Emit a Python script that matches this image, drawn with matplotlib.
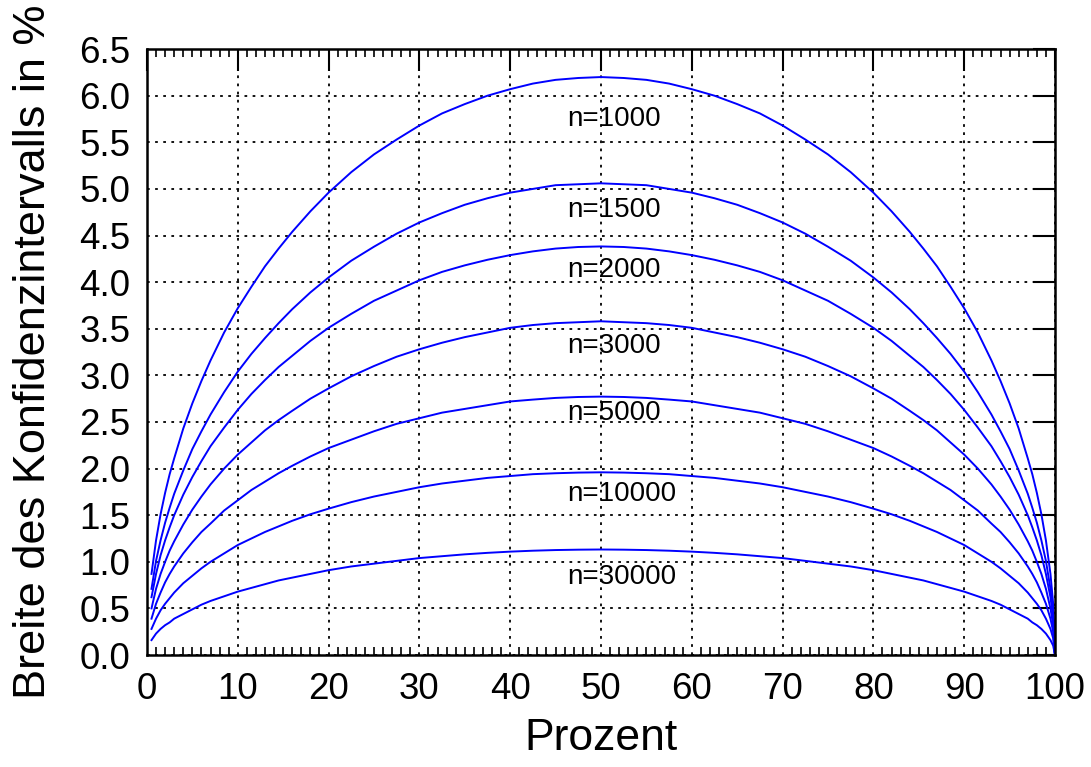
import matplotlib
matplotlib.use('Agg')
import matplotlib.pyplot as plt
from matplotlib.ticker import MultipleLocator, FormatStrFormatter

plt.rcParams['font.family'] = ['Liberation Sans', 'DejaVu Sans']

# Prozent (x positions)
prozent = [0.5, 1, 1.5, 2, 2.5, 3, 4, 5, 6, 7, 8.5, 10, 11.5, 13, 14.5, 16, 18, 20,
           22.5, 25, 27.5, 30, 32.5, 35, 37.5, 40, 42.5, 45, 47.5, 50,
           52.5, 55, 57.5, 60, 62.5, 65, 67.5, 70, 72.5, 75, 77.5, 80, 82, 84,
           85.5, 87, 88.5, 90, 91.5, 93, 94, 95, 96, 97, 97.5, 98, 98.5, 99, 99.5, 99.8, 100]

# width of confidence interval in %, one list per sample size
w_1000 = [0.87, 1.23, 1.51, 1.74, 1.94, 2.11, 2.43, 2.70, 2.94, 3.16, 3.46, 3.72, 3.95, 4.17, 4.36, 4.54, 4.76, 4.96,
          5.18, 5.37, 5.53, 5.68, 5.81, 5.91, 6.00, 6.07, 6.13, 6.17, 6.19, 6.20,
          6.19, 6.17, 6.13, 6.07, 6.00, 5.91, 5.81, 5.68, 5.53, 5.37, 5.18, 4.96, 4.76, 4.54,
          4.36, 4.17, 3.95, 3.72, 3.46, 3.16, 2.94, 2.70, 2.43, 2.11, 1.94, 1.74, 1.51, 1.23, 0.87, 0.55, 0.0]
w_1500 = [0.71, 1.01, 1.23, 1.42, 1.58, 1.73, 1.98, 2.21, 2.40, 2.58, 2.82, 3.04, 3.23, 3.40, 3.56, 3.71, 3.89, 4.05,
          4.23, 4.38, 4.52, 4.64, 4.74, 4.83, 4.90, 4.96, 5.00, 5.04, 5.05, 5.06,
          5.05, 5.04, 5.00, 4.96, 4.90, 4.83, 4.74, 4.64, 4.52, 4.38, 4.23, 4.05, 3.89, 3.71,
          3.56, 3.40, 3.23, 3.04, 2.82, 2.58, 2.40, 2.21, 1.98, 1.73, 1.58, 1.42, 1.23, 1.01, 0.71, 0.45, 0.0]
w_2000 = [0.62, 0.87, 1.07, 1.23, 1.37, 1.50, 1.72, 1.91, 2.08, 2.24, 2.44, 2.63, 2.80, 2.95, 3.09, 3.21, 3.37, 3.51,
          3.66, 3.80, 3.91, 4.02, 4.11, 4.18, 4.24, 4.29, 4.33, 4.36, 4.377, 4.383,
          4.377, 4.36, 4.33, 4.29, 4.24, 4.18, 4.11, 4.02, 3.91, 3.80, 3.66, 3.51, 3.37, 3.21,
          3.09, 2.95, 2.80, 2.63, 2.44, 2.24, 2.08, 1.91, 1.72, 1.50, 1.37, 1.23, 1.07, 0.87, 0.62, 0.39, 0.0]
w_3000 = [0.50, 0.71, 0.87, 1.00, 1.12, 1.22, 1.40, 1.56, 1.70, 1.83, 2.00, 2.15, 2.28, 2.41, 2.52, 2.62, 2.75, 2.86,
          2.99, 3.10, 3.20, 3.28, 3.35, 3.41, 3.46, 3.51, 3.54, 3.56, 3.57, 3.58,
          3.57, 3.56, 3.54, 3.51, 3.46, 3.41, 3.35, 3.28, 3.20, 3.10, 2.99, 2.86, 2.75, 2.62,
          2.52, 2.41, 2.28, 2.15, 2.00, 1.83, 1.70, 1.56, 1.40, 1.22, 1.12, 1.00, 0.87, 0.71, 0.50, 0.32, 0.0]
w_5000 = [0.39, 0.55, 0.67, 0.78, 0.87, 0.95, 1.09, 1.21, 1.32, 1.41, 1.55, 1.66, 1.77, 1.86, 1.95, 2.03, 2.13, 2.22,
          2.31, 2.40, 2.48, 2.54, 2.60, 2.64, 2.68, 2.72, 2.74, 2.758, 2.768, 2.772,
          2.768, 2.758, 2.74, 2.72, 2.68, 2.64, 2.60, 2.54, 2.48, 2.40, 2.31, 2.22, 2.13, 2.03,
          1.95, 1.86, 1.77, 1.66, 1.55, 1.41, 1.32, 1.21, 1.09, 0.95, 0.87, 0.78, 0.67, 0.55, 0.39, 0.25, 0.0]
w_10000 = [0.28, 0.39, 0.48, 0.55, 0.61, 0.67, 0.77, 0.85, 0.93, 1.00, 1.09, 1.18, 1.25, 1.32, 1.38, 1.44, 1.51, 1.57,
           1.64, 1.70, 1.75, 1.80, 1.84, 1.87, 1.90, 1.92, 1.94, 1.95, 1.957, 1.96,
           1.957, 1.95, 1.94, 1.92, 1.90, 1.87, 1.84, 1.80, 1.75, 1.70, 1.64, 1.57, 1.51, 1.44,
           1.38, 1.32, 1.25, 1.18, 1.09, 1.00, 0.93, 0.85, 0.77, 0.67, 0.61, 0.55, 0.48, 0.39, 0.28, 0.18, 0.0]
w_30000 = [0.16, 0.23, 0.28, 0.32, 0.35, 0.39, 0.44, 0.49, 0.54, 0.58, 0.63, 0.68, 0.72, 0.76, 0.80, 0.83, 0.87, 0.91,
           0.95, 0.98, 1.01, 1.04, 1.06, 1.08, 1.096, 1.109, 1.119, 1.126, 1.130, 1.132,
           1.130, 1.126, 1.119, 1.109, 1.096, 1.08, 1.06, 1.04, 1.01, 0.98, 0.95, 0.91, 0.87, 0.83,
           0.80, 0.76, 0.72, 0.68, 0.63, 0.58, 0.54, 0.49, 0.44, 0.39, 0.35, 0.32, 0.28, 0.23, 0.16, 0.10, 0.0]

series = [w_1000, w_1500, w_2000, w_3000, w_5000, w_10000, w_30000]
labels = ['n=1000', 'n=1500', 'n=2000', 'n=3000', 'n=5000', 'n=10000', 'n=30000']
label_y = [5.75, 4.77, 4.13, 3.31, 2.60, 1.73, 0.84]

fig = plt.figure(figsize=(10.91, 7.67), dpi=100)
ax = fig.add_axes([0.1347, 0.146, 0.8323, 0.790])

for w in series:
    ax.plot(prozent, w, color='#0000ff', linewidth=1.4)

for lab, yy in zip(labels, label_y):
    ax.text(46.3, yy, lab, fontsize=20, ha='left', va='center')

ax.set_xlim(0, 100)
ax.set_ylim(0, 6.5)
ax.xaxis.set_major_locator(MultipleLocator(10))
ax.xaxis.set_minor_locator(MultipleLocator(1))
ax.yaxis.set_major_locator(MultipleLocator(0.5))
ax.yaxis.set_major_formatter(FormatStrFormatter('%.1f'))

ax.grid(True, which='major', color='black', linestyle=(0, (1.5, 3)), linewidth=1.3)
ax.tick_params(which='major', direction='in', length=16, width=1.5,
               bottom=False, left=False, top=True, right=True,
               labelsize=26.5, pad=12)
ax.tick_params(which='minor', direction='in', length=6, width=1.2,
               bottom=True, top=True, left=False, right=False)
for sp in ax.spines.values():
    sp.set_linewidth(1.8)

ax.set_xlabel('Prozent', fontsize=32, labelpad=8)
ax.set_ylabel('Breite des Konfidenzintervalls in %', fontsize=32.5, labelpad=18)

fig.savefig('out.png', dpi=100)
